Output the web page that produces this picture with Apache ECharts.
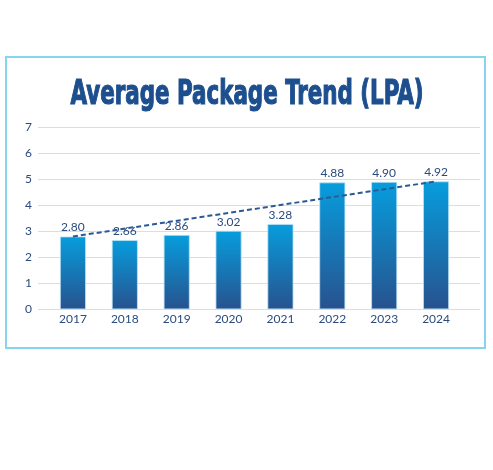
<!DOCTYPE html>
<html><head><meta charset="utf-8">
<script src="https://cdn.jsdelivr.net/npm/echarts@6/dist/echarts.min.js"></script>
<style>html,body{margin:0;padding:0;background:#fff}#c{width:493px;height:470px}</style>
</head><body><div id="c"></div>
<script>
const titleText = 'Average Package Trend (LPA)';
const years = ['2017','2018','2019','2020','2021','2022','2023','2024'];
const avgPackage = [2.80, 2.66, 2.86, 3.02, 3.28, 4.88, 4.90, 4.92];
const trendLine = [2.80, null, null, null, null, null, null, 4.92];
const yTicks = [0,1,2,3,4,5,6,7];

const chart = echarts.init(document.getElementById('c'), null, {renderer:'canvas'});
const textColor = '#2b4b7e';
const font = 'Lato';
chart.setOption({
  animation:false,
  graphic:[
    {type:'rect', shape:{x:6,y:57,width:479,height:291}, style:{fill:'none',stroke:'#88d3ef',lineWidth:2}, z:-1},
    {type:'text', x:247, y:95, scaleX:0.70, style:{text:titleText, font:'bold 34px "DejaVu Sans Condensed"', fill:'#1d4f8e', stroke:'#1d4f8e', lineWidth:1.2, textAlign:'center', textVerticalAlign:'middle'}}
  ],
  grid:[
    {left:38, right:13, top:127.3, height:182, containLabel:false},
    {left:47, right:31, top:127.3, height:182, containLabel:false}
  ],
  xAxis:[
    {gridIndex:0, type:'category', data:years, show:false},
    {gridIndex:1, type:'category', data:years,
     axisLine:{show:false}, axisTick:{show:false},
     axisLabel:{color:textColor, fontFamily:font, fontSize:12, margin:4}}
  ],
  yAxis:[
    {gridIndex:0, type:'value', min:0, max:7, interval:1,
     axisLine:{show:false}, axisTick:{show:false},
     axisLabel:{color:textColor, fontFamily:font, fontSize:12, margin:6, formatter:v=>yTicks.includes(v)?String(v):''},
     splitLine:{lineStyle:{color:'#cfe0ee', width:1}}},
    {gridIndex:1, type:'value', min:0, max:7, interval:1, show:false, splitLine:{show:false}}
  ],
  series:[
    {type:'bar', xAxisIndex:1, yAxisIndex:1, data:avgPackage, barWidth:26,
     itemStyle:{
       color:new echarts.graphic.LinearGradient(0,0,0,1,[{offset:0,color:'#079ddd'},{offset:1,color:'#27528e'}]),
       borderColor:'#bfe3f5', borderWidth:0.8
     },
     label:{show:true, position:'top', distance:3, color:textColor, fontFamily:font, fontSize:12,
            formatter:p=>p.value.toFixed(2)}},
    {type:'line', xAxisIndex:1, yAxisIndex:1, data:trendLine, connectNulls:true, symbol:'none', z:5,
     lineStyle:{color:'#2a5a96', width:2, type:[5,3]}}
  ]
});
</script></body></html>
